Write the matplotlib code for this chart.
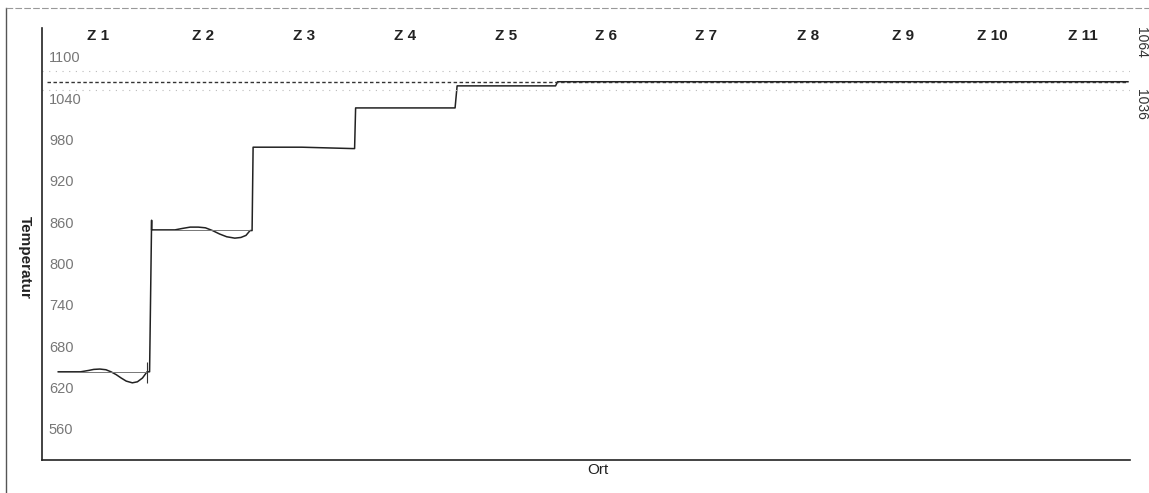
import matplotlib
matplotlib.use("Agg")
import matplotlib.pyplot as plt
from matplotlib.lines import Line2D

plt.rcParams['font.family'] = ['Liberation Sans', 'DejaVu Sans']

# zone labels and where they sit along "Ort"
zones = ["Z 1", "Z 2", "Z 3", "Z 4", "Z 5", "Z 6", "Z 7", "Z 8", "Z 9", "Z 10", "Z 11"]
zone_label_x = [0.49, 1.53, 2.52, 3.52, 4.51, 5.50, 6.48, 7.49, 8.42, 9.30, 10.20]

# y axis ticks
yticks = [560, 620, 680, 740, 800, 860, 920, 980, 1040, 1100]

ort = [0.10, 0.32, 0.40, 0.45, 0.51, 0.57, 0.62, 0.67, 0.72, 0.77, 0.83, 0.88, 0.93, 0.975,
       1.00, 1.02, 1.02,
       1.25, 1.32, 1.40, 1.48, 1.55, 1.62, 1.69, 1.76, 1.84, 1.90, 1.95, 1.99,
       2.01, 2.02, 2.50, 3.00,
       3.02, 3.03, 3.98, 4.01, 4.03, 5.00, 5.02, 10.64]
temp = [643, 643, 645, 646.5, 647, 646, 643, 639, 634, 629.5, 627, 628.5, 634, 643,
        643, 863, 849,
        849, 851, 853, 853, 852, 848, 843, 839, 837, 838, 841, 848,
        848, 969, 969, 967,
        967, 1026, 1026, 1026, 1058, 1058, 1064, 1064]

# set points of the first two zones
set_start = [0.10, 1.02]
set_end = [0.98, 1.99]
set_temp = [643, 849]

gold_line = 1064
upper_dotted = 1080
lower_dotted = 1052
right_labels = ["1064", "1036"]

fig = plt.figure(figsize=(11.49, 4.93), dpi=100)
ax = fig.add_axes([42 / 1149, 1 - 460 / 493, (1130 - 42) / 1149, (460 - 28) / 493])

ax.set_xlim(-0.06, 10.66)
ax.set_ylim(515, 1142)

ax.plot(ort, temp, color="#222222", lw=1.1)
ax.hlines(set_temp, set_start, set_end, color="#777777", lw=0.7)
ax.axhline(gold_line, xmin=0.005, xmax=0.997, color="#333333", lw=1.0, ls=(0, (2.5, 1.8)))
ax.axhline(upper_dotted, color="#bbbbbb", lw=0.8, ls=(0, (1, 5)))
ax.axhline(lower_dotted, color="#bbbbbb", lw=0.8, ls=(0, (1, 5)))
# small marker at end of zone 1
ax.vlines(0.975, 627, 657, color="#333333", lw=0.8)

for lab, x in zip(zones, zone_label_x):
    ax.text(x, 1131, lab, ha="center", va="center", fontsize=11, fontweight="bold", color="#222222")

ax.set_yticks(yticks)
ax.set_yticklabels([str(v) for v in yticks], ha="left", color="#777777", fontsize=10.5)
ax.tick_params(axis="y", length=0, pad=-5)
ax.set_xticks([])

for side in ["top", "right"]:
    ax.spines[side].set_visible(False)
ax.spines["left"].set_color("#222222")
ax.spines["bottom"].set_color("#222222")
ax.spines["left"].set_linewidth(1.2)
ax.spines["bottom"].set_linewidth(1.2)

fig.text(1141 / 1149, 1 - 42 / 493, right_labels[0], rotation=-90, ha="center", va="center", fontsize=10, color="#333333")
fig.text(1141 / 1149, 1 - 104 / 493, right_labels[1], rotation=-90, ha="center", va="center", fontsize=10, color="#333333")

fig.text(25 / 1149, 1 - 257 / 493, "Temperatur", rotation=-90, ha="center", va="center", fontsize=11, fontweight="bold", color="#222222")
fig.text(598 / 1149, 1 - 470 / 493, "Ort", ha="center", va="center", fontsize=11, color="#222222")

# outer frame of the scan
fig.add_artist(Line2D([6 / 1149, 6 / 1149], [0, 1 - 8 / 493], color="#555555", lw=1.0))
fig.add_artist(Line2D([6 / 1149, 1], [1 - 8 / 493, 1 - 8 / 493], color="#999999", lw=0.8, ls=(0, (6, 2))))

fig.savefig("out.png", dpi=100)
